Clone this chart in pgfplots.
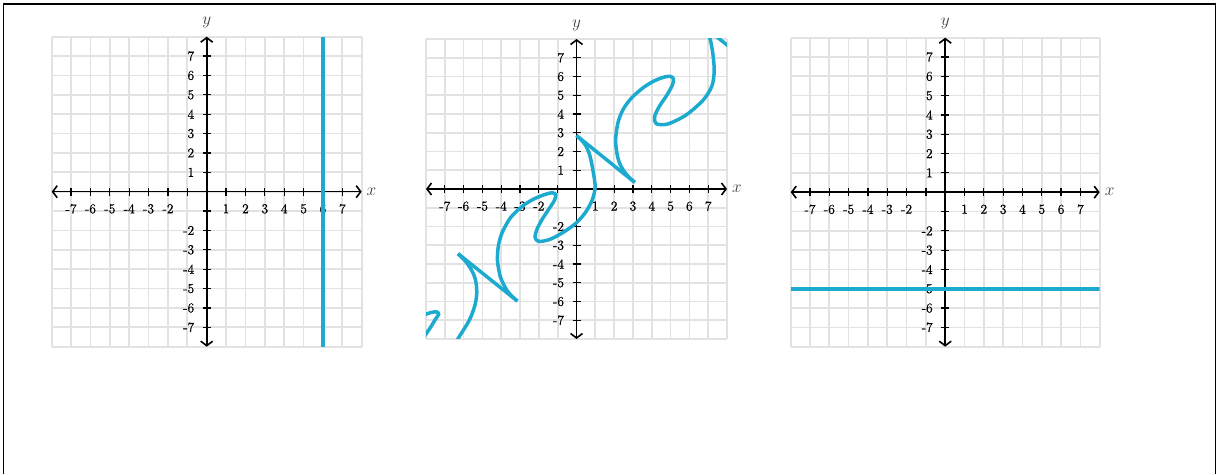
\documentclass[border=0pt]{standalone}
\usepackage{fontspec}
\usepackage{pgfplots}
\pgfplotsset{compat=1.18}
\usetikzlibrary{arrows.meta}

\definecolor{curveblue}{RGB}{28,171,207}
\definecolor{gridgray}{RGB}{226,226,226}

\newfontfamily\tickfont{Latin Modern Roman}[FakeBold=0.9]
\newcommand{\ticksize}{\fontsize{13.5}{15}\tickfont}
\newcommand{\labsize}{\fontsize{16}{18}\selectfont}

% common coordinate-plane look: grid every unit, arrowed axes through the origin
\pgfplotsset{
  coordplane/.style={
    scale only axis,
    width=310pt, height=310pt,
    axis lines=middle,
    xmin=-8, xmax=8, ymin=-8, ymax=8,
    xtick={-7,...,7}, ytick={-7,...,7},
    xticklabels={-7,-6,-5,-4,-3,-2,,,1,2,3,4,5,6,7},
    yticklabels={-7,-6,-5,-4,-3,-2,,,1,2,3,4,5,6,7},
    minor xtick={-8,...,8}, minor ytick={-8,...,8},
    minor tick length=0pt,
    xminorgrids=true, yminorgrids=true,
    minor grid style={gridgray, line width=1.7pt},
    tick align=center,
    major tick length=8pt,
    tick style={black, line width=1.2pt},
    axis line style={black, line width=1.6pt,
      {Straight Barb[length=4.5pt,width=12pt,line width=1.6pt]}-{Straight Barb[length=4.5pt,width=12pt,line width=1.6pt]}},
    xticklabel style={font=\ticksize, text=black, yshift=-5pt},
    yticklabel style={font=\ticksize, text=black, xshift=-5pt},
    xlabel={$x$}, ylabel={$y$},
    xlabel style={font=\labsize, text=black!75, anchor=west, xshift=1.5pt},
    ylabel style={font=\labsize, text=black!75, anchor=south, yshift=5pt},
  },
  curve/.style={curveblue, line width=3.5pt, no markers},
}

\begin{document}
\begin{tikzpicture}
\path[use as bounding box] (0,0) rectangle (1218pt,474pt);
\draw[line width=1.8pt] (3.5pt,0) -- (3.5pt,470pt) -- (1215.5pt,470pt) -- (1215.5pt,0);

% vertical line x = 6
\begin{axis}[coordplane, at={(51.7pt,127.3pt)}, anchor=south west]
  \addplot[curve] coordinates {(6,-8) (6,8)};
\end{axis}

% a curve that fails the vertical line test
\begin{axis}[coordplane, width=301pt, height=300pt, at={(426pt,135pt)}, anchor=south west]
  \addplot[curve, smooth] coordinates {
    (-8.5,-6.9) (-8.05,-6.7) (-7.78,-6.6) (-7.45,-6.55) (-7.33,-6.68)
    (-7.5,-6.95) (-7.78,-7.41) (-8.14,-7.95) (-8.4,-8.4)};
  \addplot[curve, smooth] coordinates {
    (-6.6,-8.5) (-6.28,-7.95) (-5.7,-7.0) (-5.4,-6.2) (-5.3,-5.5)
    (-5.38,-4.8) (-5.62,-4.25) (-5.95,-3.8) (-6.3,-3.45)};
  \addplot[curve] coordinates {(-6.3,-3.45) (-3.14,-5.98)};
  \addplot[curve, smooth] coordinates {
    (-3.14,-5.98) (-3.45,-5.7) (-3.7,-5.4) (-4.04,-4.71) (-4.2,-3.82)
    (-4.15,-3.02) (-3.95,-2.32) (-3.5,-1.52) (-2.88,-0.92) (-2.3,-0.55)
    (-1.7,-0.3) (-1.3,-0.2) (-1.1,-0.3) (-1.18,-0.62) (-1.49,-1.10)
    (-1.84,-1.64) (-2.11,-2.17) (-2.2,-2.58) (-2.0,-2.8) (-1.4,-2.68)
    (-0.69,-2.3) (0,-1.8) (0.51,-1.2) (0.85,-0.55) (0.99,0.1)
    (0.9,0.85) (0.72,1.75) (0.5,2.3) (0.25,2.62) (0,2.85)};
  \addplot[curve] coordinates {(0,2.85) (3.1,0.35)};
  \addplot[curve, smooth] coordinates {
    (3.1,0.35) (2.8,0.62) (2.56,0.9) (2.3,1.35) (2.15,1.9) (2.08,2.63)
    (2.2,3.52) (2.47,4.23) (2.92,4.85) (3.54,5.4) (4.16,5.78) (4.7,5.98)
    (5.0,6.0) (5.15,5.88) (5.1,5.55) (4.8,5.0) (4.4,4.4) (4.15,3.85)
    (4.24,3.48) (4.86,3.47) (5.83,3.95) (6.74,4.75) (7.2,5.5) (7.32,6.3)
    (7.25,7.2) (7.1,8.0) (6.85,8.6) (6.6,8.9)};
  \addplot[curve] coordinates {(6.3,9.05) (9.4,6.55)};
\end{axis}

% horizontal line y = -5
\begin{axis}[coordplane, width=309pt, height=309pt, at={(790.7pt,127.3pt)}, anchor=south west]
  \addplot[curve] coordinates {(-8,-5) (8,-5)};
\end{axis}
\end{tikzpicture}
\end{document}
